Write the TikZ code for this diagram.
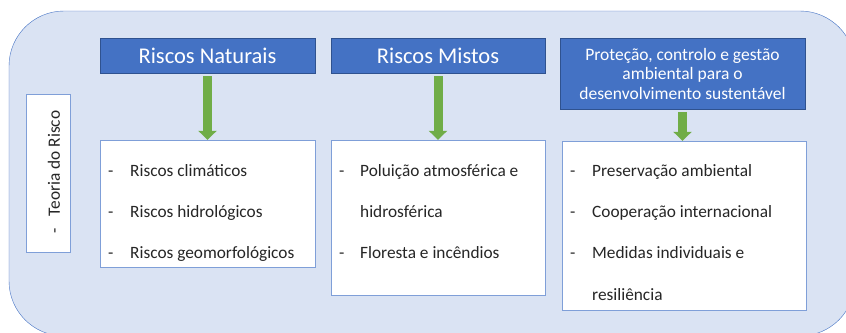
\documentclass[tikz,border=0pt]{standalone}
\usepackage{fontspec}
\setmainfont{Carlito}
\usetikzlibrary{arrows.meta}
\definecolor{fundo}{HTML}{DAE3F3}
\definecolor{azul}{HTML}{4472C4}
\definecolor{azulesc}{HTML}{2F528F}
\definecolor{azulcl}{HTML}{7F9FD8}
\definecolor{verde}{HTML}{70AD47}
\definecolor{verdeesc}{HTML}{507E32}
\definecolor{texto}{HTML}{262626}

\begin{document}
\begin{tikzpicture}[x=1pt,y=-1pt,
    titulo/.style={draw=azulesc,fill=azul,text=white,inner sep=0pt,align=center},
    caixa/.style={draw=azulcl,fill=white,inner sep=0pt},
    item/.style={anchor=base west,text=texto,inner sep=0pt,font=\fontsize{17.3}{20}\selectfont},
    seta/.style={line width=9pt,draw=verde,shorten <=3pt,-{Triangle[width=18pt,length=9pt]}}]
    \useasboundingbox(0,0)rectangle(846,332);
    \clip(0,0)rectangle(846,332);
    \draw[fill=fundo,draw=azul,rounded corners=55](9,11)rectangle(855,336);
    % titulos
    \node[titulo,minimum width=215,minimum height=35,font=\fontsize{22.5}{26}\selectfont](naturais)at(207.5,55.5){Riscos Naturais};
    \node[titulo,minimum width=214,minimum height=35,font=\fontsize{22.5}{26}\selectfont](mistos)at(438,55.5){Riscos Mistos};
    \node[titulo,minimum width=245,minimum height=71,font=\fontsize{17.5}{19.5}\selectfont](protecao)at(682.5,73.5){Proteção, controlo e gestão\\ambiental para o\\desenvolvimento sustentável};
    % caixas
    \node[caixa,minimum width=215,minimum height=127](cnaturais)at(207.5,203.5){};
    \node[caixa,minimum width=214,minimum height=155](cmistos)at(438,217.5){};
    \node[caixa,minimum width=244,minimum height=169](cprotecao)at(684,225.5){};
    \node[caixa,minimum width=44,minimum height=158](teoria)at(48,173){};
    \node[rotate=90,text=texto,inner sep=0pt,font=\fontsize{17.3}{20}\selectfont](tteoria)at(54,172){-\hspace{12pt}Teoria do Risco};
    % setas
    \draw[seta](naturais.south)--(cnaturais.north);
    \draw[seta](mistos.south)--(cmistos.north);
    \draw[seta](protecao.south)--(protecao.south|-cprotecao.north);
    % itens
    \foreach \y/\t in {176/Riscos climáticos,217/Riscos hidrológicos,258/Riscos geomorfológicos}{
      \node[item](n\y)at(108,\y){-};
      \node[item]at(130,\y){\t};
    }
    \node[item](m1)at(339,176){-};
    \node[item]at(360,176){Poluição atmosférica e};
    \node[item]at(360,217){hidrosférica};
    \node[item](m2)at(339,258){-};
    \node[item]at(360,258){Floresta e incêndios};
    \foreach \y/\t in {176/Preservação ambiental,217/Cooperação internacional,258/Medidas individuais e}{
      \node[item](p\y)at(570,\y){-};
      \node[item]at(592,\y){\t};
    }
    \node[item]at(592,300){resiliência};
\end{tikzpicture}
\end{document}
